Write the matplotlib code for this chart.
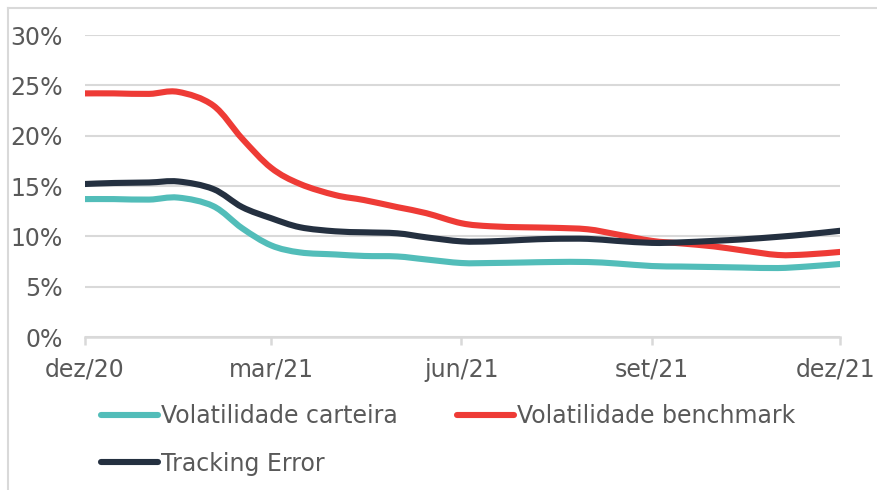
import matplotlib
matplotlib.use("Agg")
import matplotlib.pyplot as plt
import matplotlib.dates as mdates
import matplotlib.transforms as mtransforms
from matplotlib.lines import Line2D
from matplotlib.path import Path
from matplotlib.patches import PathPatch
import numpy as np
import pandas as pd

# leituras quinzenais (aprox. do grafico), em %
datas = pd.to_datetime([
    "2020-12-01", "2020-12-15", "2021-01-01", "2021-01-15", "2021-02-01",
    "2021-02-15", "2021-03-01", "2021-03-15", "2021-04-01", "2021-04-15",
    "2021-05-01", "2021-05-15", "2021-06-01", "2021-06-15", "2021-07-01",
    "2021-07-15", "2021-08-01", "2021-08-15", "2021-09-01", "2021-09-15",
    "2021-10-01", "2021-10-15", "2021-11-01", "2021-11-15", "2021-12-01",
])

vol_carteira = [13.7, 13.7, 13.65, 13.85, 13.0, 10.8, 9.1, 8.4, 8.2, 8.05,
                8.0, 7.7, 7.35, 7.35, 7.4, 7.45, 7.45, 7.3, 7.05, 7.0,
                6.95, 6.9, 6.85, 7.0, 7.25]
vol_benchmark = [24.2, 24.2, 24.15, 24.35, 23.0, 19.7, 16.8, 15.2, 14.1, 13.6,
                 12.9, 12.3, 11.3, 11.0, 10.9, 10.85, 10.7, 10.2, 9.55, 9.3,
                 9.0, 8.6, 8.15, 8.2, 8.45]
tracking_error = [15.2, 15.3, 15.35, 15.45, 14.7, 12.9, 11.8, 10.9, 10.5, 10.4,
                  10.3, 9.9, 9.5, 9.5, 9.65, 9.75, 9.75, 9.55, 9.35, 9.4,
                  9.55, 9.7, 9.95, 10.2, 10.55]

tick_datas = pd.to_datetime(["2020-12-01", "2021-03-01", "2021-06-01",
                             "2021-09-01", "2021-12-01"])
tick_labels = ["dez/20", "mar/21", "jun/21", "set/21", "dez/21"]
y_ticks = [0, 5, 10, 15, 20, 25, 30]

cinza_txt = "#595959"
cinza_linha = "#d9d9d9"


def linha_suave(ax, x, y, cor):
    # linha suavizada como no Excel (bezier pelos pontos)
    x = mdates.date2num(x)
    p = np.column_stack([x, y])
    p_ext = np.vstack([p[0], p, p[-1]])
    verts = [p[0]]
    codes = [Path.MOVETO]
    for i in range(1, len(p_ext) - 2):
        p0, p1, p2, p3 = p_ext[i - 1], p_ext[i], p_ext[i + 1], p_ext[i + 2]
        verts += [p1 + (p2 - p0) / 6, p2 - (p3 - p1) / 6, p2]
        codes += [Path.CURVE4] * 3
    patch = PathPatch(Path(verts, codes), fill=False, edgecolor=cor, lw=4.4,
                      capstyle="round", joinstyle="round")
    ax.add_patch(patch)
    return Line2D([], [], color=cor, lw=4.4, solid_capstyle="round")


fig = plt.figure(figsize=(8.77, 4.9), dpi=100)
ax = fig.add_axes([85 / 877, 1 - 337 / 490, 755 / 877, 302 / 490])

h1 = linha_suave(ax, datas, vol_carteira, "#52bdb9")
h2 = linha_suave(ax, datas, vol_benchmark, "#ee3b36")
h3 = linha_suave(ax, datas, tracking_error, "#243040")

ax.set_xlim(mdates.date2num(tick_datas[0]), mdates.date2num(tick_datas[-1]))
ax.set_ylim(0, 30)
ax.set_yticks(y_ticks)
ax.set_yticklabels([f"{v}%" for v in y_ticks])
ax.set_xticks(mdates.date2num(tick_datas))
ax.set_xticklabels(tick_labels)

ax.grid(axis="y", color=cinza_linha, lw=1.5)
ax.set_axisbelow(True)
for s in ["left", "right", "top"]:
    ax.spines[s].set_visible(False)
ax.spines["bottom"].set_color(cinza_linha)
ax.spines["bottom"].set_linewidth(1.8)
ax.spines["bottom"].set_zorder(0.5)

ax.tick_params(axis="y", length=0, pad=16, labelsize=17, labelcolor=cinza_txt)
ax.tick_params(axis="x", length=6, width=1.8, color=cinza_linha, pad=9,
               labelsize=17, labelcolor=cinza_txt)

# ultimo rotulo encosta na borda: puxa um pouco para dentro
ultimo = ax.get_xticklabels()[-1]
ultimo.set_transform(ultimo.get_transform() +
                     mtransforms.ScaledTranslation(-4 / 100, 0, fig.dpi_scale_trans))

# ordem para a legenda preencher por linha
fig.legend([h1, h3, h2],
           ["Volatilidade carteira", "Tracking Error", "Volatilidade benchmark"],
           loc="upper left", bbox_to_anchor=(101 / 877, 1 - 404 / 490), ncol=2,
           frameon=False, fontsize=17, labelcolor=cinza_txt, handlelength=2.4,
           handletextpad=0.15, columnspacing=2.5, labelspacing=1.0,
           borderpad=0, borderaxespad=0)

# moldura cortada da imagem original
fig.add_artist(Line2D([8 / 877, 1], [1 - 8 / 490, 1 - 8 / 490],
                      transform=fig.transFigure, color=cinza_linha, lw=1.5))
fig.add_artist(Line2D([8 / 877, 8 / 877], [0, 1 - 8 / 490],
                      transform=fig.transFigure, color=cinza_linha, lw=1.5))

fig.savefig("out.png", dpi=100)
